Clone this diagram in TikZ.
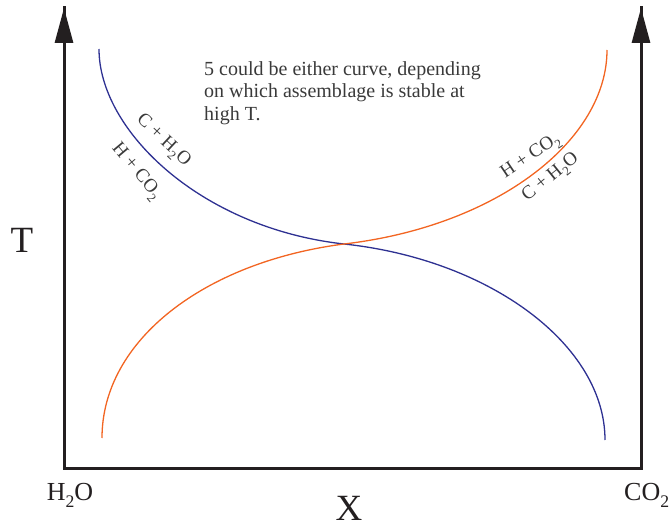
\documentclass[tikz,border=0pt]{standalone}
\usepackage{fontspec}
\setmainfont{Liberation Serif}
\usetikzlibrary{arrows.meta}
\definecolor{Ink}{HTML}{231F20}
\definecolor{Txt}{HTML}{3A3A3A}
\definecolor{Navy}{HTML}{2E3192}
\definecolor{Tang}{HTML}{F26522}
\newcommand{\dn}[1]{\raisebox{-0.6ex}{\scalebox{0.68}{#1}}}

\begin{document}
\begin{tikzpicture}[x=1pt,y=-1pt,
  axis/.style={Ink,line width=3pt,-{Triangle[length=35pt,width=18pt]}},
  frame/.style={Ink,line width=3pt,line cap=rect},
  curve/.style={line width=1.3pt},
  axlabel/.style={inner sep=0pt,text=Ink,font=\fontsize{37}{40}\selectfont},
  endlabel/.style={inner sep=0pt,text=Ink,font=\fontsize{26}{28}\selectfont},
  phase/.style={inner sep=0pt,text=Txt,font=\fontsize{19}{20}\selectfont}]
\useasboundingbox (0,0) rectangle (670,527);
% axes
\coordinate (origin) at (64,468);
\coordinate (ytop) at (64,8);
\coordinate (xend) at (641,468);
\coordinate (rtop) at (641,8);
\draw[frame] (ytop) -- (origin) -- (xend) -- (rtop);
\draw[axis] (origin) -- (ytop);
\draw[axis] (xend) -- (rtop);
\node[axlabel] (tlab) at (22,240) {T};
\node[axlabel] (xlab) at (349,508) {X};
\node[endlabel] (water) at (70,495) {H\dn{2}O};
\node[endlabel,anchor=west] (carb) at (624,495) {CO\dn{2}};
% the two curves
\coordinate (cross) at (344,244);
\coordinate (blueA) at (99,49);
\coordinate (blueB) at (605,440);
\coordinate (orA) at (102,438);
\coordinate (orB) at (607,50);
\draw[curve,Navy] (blueA) .. controls (99,130) and (200,228) .. (cross)
  .. controls (490,259.5) and (605,345) .. (blueB);
\draw[curve,Tang] (orA) .. controls (102,340) and (205,262) .. (cross)
  .. controls (498,226) and (607,140) .. (orB);
% reactions along the curves
\node[phase,rotate=-43] (lc) at (163,141) {C + H\dn{2}O};
\node[phase,rotate=-50] (lh) at (136,172) {H + CO\dn{2}};
\node[phase,rotate=34] (rh) at (531,157) {H + CO\dn{2}};
\node[phase,rotate=39] (rc) at (551,178) {C + H\dn{2}O};
% note
\node[anchor=north west,align=left,inner sep=0pt,text=Txt,
  font=\fontsize{20}{22.5}\selectfont] (note) at (204,61)
  {5 could be either curve, depending\\on which assemblage is stable at\\high T.};
\end{tikzpicture}
\end{document}
